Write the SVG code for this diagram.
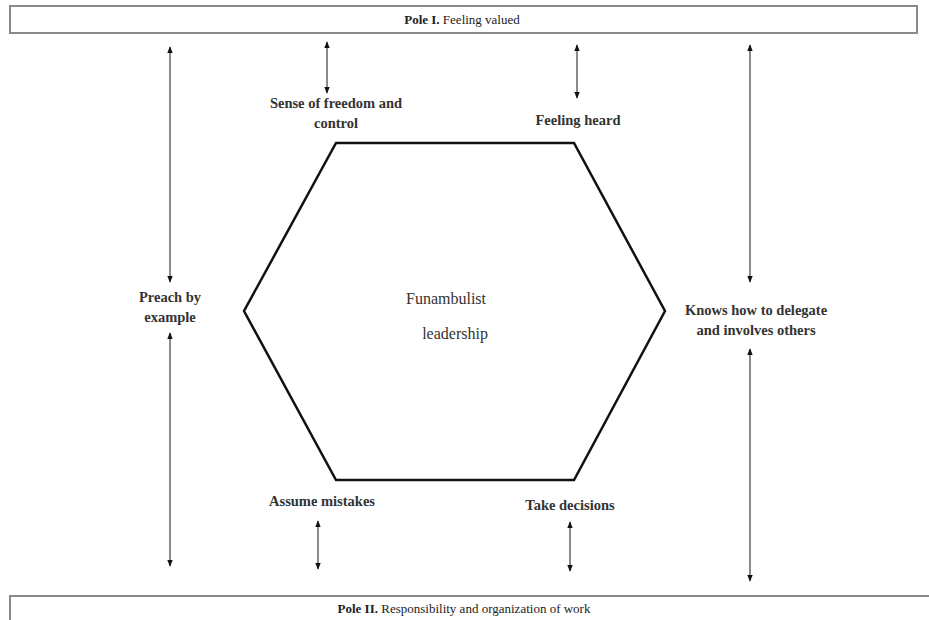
<svg xmlns="http://www.w3.org/2000/svg" width="929" height="620" viewBox="0 0 929 620">
<style>
.pole{fill:#fff;stroke:#8a8a8a;stroke-width:2}
.pt{font-family:"Liberation Serif","DejaVu Serif",serif;font-size:13px;fill:#222;text-anchor:middle}
.lb{font-family:"Liberation Serif","DejaVu Serif",serif;font-size:14.5px;font-weight:bold;fill:#333;text-anchor:middle}
.ct{font-family:"Liberation Serif","DejaVu Serif",serif;font-size:16px;fill:#333;text-anchor:middle}
.ar{stroke:#666;stroke-width:1.5;fill:none;marker-start:url(#ah);marker-end:url(#ah)}
</style>
<defs>
<marker id="ah" viewBox="0 0 10 10" refX="9" refY="5" markerWidth="7" markerHeight="7" markerUnits="userSpaceOnUse" orient="auto-start-reverse">
<path d="M0,1 L10,5 L0,9 Z" fill="#111"/>
</marker>
</defs>
<rect width="929" height="620" fill="#fff"/>
<g id="pole1">
<rect class="pole" x="10" y="6" width="907" height="27"/>
<text class="pt" x="462" y="24"><tspan font-weight="bold">Pole I.</tspan> Feeling valued</text>
</g>
<g id="pole2">
<rect class="pole" x="10" y="596" width="925" height="30"/>
<text class="pt" x="464" y="613"><tspan font-weight="bold">Pole II.</tspan> Responsibility and organization of work</text>
</g>
<g id="hexagon">
<polygon points="336,143 574,143 665,311 574,480 336,480 244,311" fill="#fff" stroke="#111" stroke-width="2.5"/>
<text class="ct" x="446" y="304">Funambulist</text>
<text class="ct" x="455" y="339">leadership</text>
</g>
<g id="sense">
<text class="lb" x="336" y="108">Sense of freedom and</text>
<text class="lb" x="336" y="128">control</text>
</g>
<g id="heard"><text class="lb" x="578" y="125">Feeling heard</text></g>
<g id="preach">
<text class="lb" x="170" y="302">Preach by</text>
<text class="lb" x="170" y="322">example</text>
</g>
<g id="delegate">
<text class="lb" x="756" y="315">Knows how to delegate</text>
<text class="lb" x="756" y="335">and involves others</text>
</g>
<g id="mistakes"><text class="lb" x="322" y="506">Assume mistakes</text></g>
<g id="decisions"><text class="lb" x="570" y="510">Take decisions</text></g>
<g id="connectors">
<line class="ar" x1="170" y1="47" x2="170" y2="282"/>
<line class="ar" x1="170" y1="333" x2="170" y2="566"/>
<line class="ar" x1="327" y1="42" x2="327" y2="93"/>
<line class="ar" x1="577" y1="45" x2="577" y2="98"/>
<line class="ar" x1="750" y1="45" x2="750" y2="282"/>
<line class="ar" x1="750" y1="349" x2="750" y2="581"/>
<line class="ar" x1="318" y1="521" x2="318" y2="569"/>
<line class="ar" x1="570" y1="522" x2="570" y2="571"/>
</g>
</svg>
